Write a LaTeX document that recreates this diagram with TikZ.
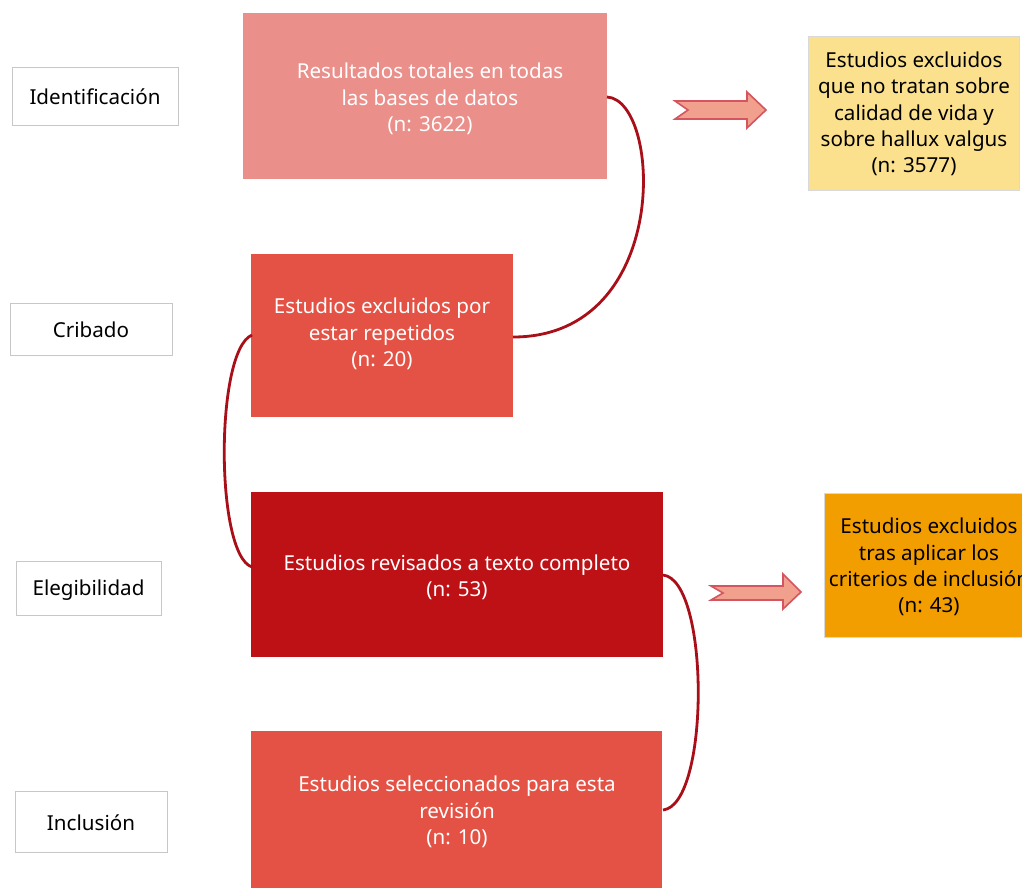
\documentclass[tikz,border=0pt]{standalone}
\usepackage{fontspec}
\setmainfont{Noto Sans}
\begin{document}
\begin{tikzpicture}[x=1pt,y=-1pt,
  lbl/.style={draw=black!22,line width=1pt,fill=white,inner sep=0pt},
  box/.style={inner sep=0pt,text=white},
  txt/.style={align=center,font=\fontsize{20.6}{26.3}\selectfont},
  conn/.style={draw=red!60!black,line width=2.8pt},
  barrow/.style={fill=arfill,draw=arline,line width=1.6pt,line join=miter}]
\definecolor{c1}{HTML}{EA8F8A}
\definecolor{c2}{HTML}{E35244}
\definecolor{c3}{HTML}{BE1116}
\definecolor{cy}{HTML}{FBE18D}
\definecolor{co}{HTML}{F29E00}
\definecolor{arfill}{HTML}{F0A08C}
\definecolor{arline}{HTML}{D45560}
\definecolor{cl}{HTML}{A80F18}
\useasboundingbox (0,0) rectangle (1022,887);
\clip (0,0) rectangle (1022,887);
% label boxes
\draw[lbl] (12,67) rectangle (178,125);
\node[txt] (lid) at (95,97) {Identificación};
\draw[lbl] (10,303) rectangle (172,355);
\node[txt] (lcr) at (91,330) {Cribado};
\draw[lbl] (16,561) rectangle (161,615);
\node[txt] (lel) at (88.5,590) {Elegibilidad};
\draw[lbl] (15,791) rectangle (167,852);
\node[txt] (lin) at (91,823) {Inclusión};
% main boxes
\fill[c1] (243,13) rectangle (607,179);
\node[txt,text=white] (b1) at (430,99) {Resultados totales en todas\\las bases de datos\\(n: 3622)};
\fill[c2] (251,254) rectangle (513,417);
\node[txt,text=white] (b2) at (382,334) {Estudios excluidos por\\estar repetidos\\(n: 20)};
\fill[c3] (251,492) rectangle (663,657);
\node[txt,text=white] (b3) at (457,577) {Estudios revisados a texto completo\\(n: 53)};
\fill[c2] (251,731) rectangle (662,895);
\node[txt,text=white] (b4) at (457,812) {Estudios seleccionados para esta\\revisión\\(n: 10)};
% side boxes
\filldraw[fill=cy,draw=black!15,line width=1pt] (808,36) rectangle (1019,190);
\node[txt] (y1) at (914,114) {Estudios excluidos\\que no tratan sobre\\calidad de vida y\\sobre hallux valgus\\(n: 3577)};
\filldraw[fill=co,draw=black!15,line width=1pt] (824,493) rectangle (1040,637);
\node[txt] (o1) at (929,567) {Estudios excluidos\\tras aplicar los\\criterios de inclusión\\(n: 43)};
% block arrows
\draw[barrow] (675,101) -- (747,101) -- (747,92) -- (766,110) -- (747,128) -- (747,119) -- (675,119) -- (688,110) -- cycle;
\draw[barrow] (711,586) -- (783,586) -- (783,574) -- (801,592) -- (783,609) -- (783,600) -- (711,600) -- (723,593) -- cycle;
% connectors
\coordinate (p1) at (607,97);
\coordinate (p2) at (513,337);
\coordinate (p3) at (252,335);
\coordinate (p4) at (252,567);
\coordinate (p5) at (663,575);
\coordinate (p6) at (663,810);
\draw[conn,draw=cl] (p1) .. controls (662,100) and (672,337) .. (p2);
\draw[conn,draw=cl] (p3) .. controls (215,350) and (215,555) .. (p4);
\draw[conn,draw=cl] (p5) .. controls (710,580) and (710,805) .. (p6);
\end{tikzpicture}
\end{document}
